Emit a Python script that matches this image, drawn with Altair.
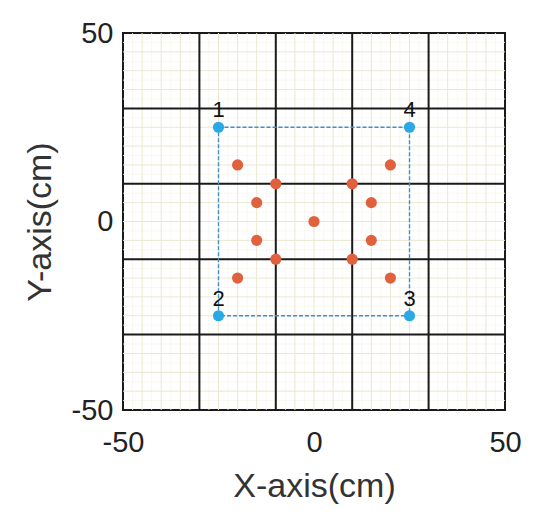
import altair as alt
import pandas as pd

# Data
corner_x = [-25, -25, 25, 25]
corner_y = [25, -25, -25, 25]
corner_lab = ["1", "2", "3", "4"]

red_x = [-20, 20, -15, 15, -10, 10, 0, -15, 15, -10, 10, -20, 20]
red_y = [15, 15, 5, 5, 10, 10, 0, -5, -5, -10, -10, -15, -15]

rect_x = [-25, 25, 25, -25, -25]
rect_y = [25, 25, -25, -25, 25]

tick_vals = [-50, 0, 50]
major_grid = [-30, -10, 10, 30]
mid_grid = [v for v in range(-45, 50, 5) if v not in major_grid]
fine_grid = [v / 2 for v in range(-95, 100, 10)]

xs = alt.Scale(domain=[-50, 50], nice=False, zero=False)
ys = alt.Scale(domain=[-50, 50], nice=False, zero=False)

corners = pd.DataFrame({"x": corner_x, "y": corner_y, "lab": corner_lab})
reds = pd.DataFrame({"x": red_x, "y": red_y})
rect = pd.DataFrame({"x": rect_x, "y": rect_y, "o": list(range(len(rect_x)))})
fine = pd.DataFrame({"v": fine_grid})
mid = pd.DataFrame({"v": mid_grid})
major = pd.DataFrame({"v": major_grid})


def grid_layers(df, color, width):
    v = alt.Chart(df).mark_rule(color=color, strokeWidth=width).encode(
        x=alt.X("v:Q", scale=xs))
    h = alt.Chart(df).mark_rule(color=color, strokeWidth=width).encode(
        y=alt.Y("v:Q", scale=ys))
    return v + h


label_expr = "'' + datum.value"
base_x = alt.X("x:Q", scale=xs, title="X-axis(cm)",
               axis=alt.Axis(values=tick_vals, grid=False, ticks=False, domain=False,
                             labelFlush=False, labelPadding=18, titlePadding=12,
                             labelExpr=label_expr))
base_y = alt.Y("y:Q", scale=ys, title="Y-axis(cm)",
               axis=alt.Axis(values=tick_vals, grid=False, ticks=False, domain=False,
                             labelFlush=False, labelPadding=10, titlePadding=14,
                             labelExpr=label_expr))

line = alt.Chart(rect).mark_line(color="#3f8fd0", strokeWidth=1.4, strokeDash=[4, 2]).encode(
    x=base_x, y=base_y, order="o:Q")

red_pts = alt.Chart(reds).mark_circle(size=125, color="#e1613f", opacity=1).encode(
    x=alt.X("x:Q", scale=xs), y=alt.Y("y:Q", scale=ys))

blue_pts = alt.Chart(corners).mark_circle(size=125, color="#2aa9e4", opacity=1).encode(
    x=alt.X("x:Q", scale=xs), y=alt.Y("y:Q", scale=ys))

labels = alt.Chart(corners).mark_text(fontSize=22, dy=-17, color="#111",
                                      font="Liberation Sans").encode(
    x=alt.X("x:Q", scale=xs), y=alt.Y("y:Q", scale=ys), text="lab:N")

chart = alt.layer(
    grid_layers(fine, "#f8f6ec", 0.8),
    grid_layers(mid, "#ebe7d3", 1),
    grid_layers(major, "#1a1a1a", 2),
    line, red_pts, blue_pts, labels,
).properties(
    width=382, height=377,
    autosize=alt.AutoSizeParams(type="none"),
    padding={"left": 115, "top": 25, "right": 30, "bottom": 108},
).configure_view(
    stroke="#1a1a1a", strokeWidth=2
).configure_axis(
    labelFont="Liberation Sans", titleFont="Liberation Sans",
    labelFontSize=29, titleFontSize=34, labelColor="#222", titleColor="#333",
    titleFontWeight="normal"
)

chart.save("out.html", embed_options={"renderer": "svg", "actions": False})
